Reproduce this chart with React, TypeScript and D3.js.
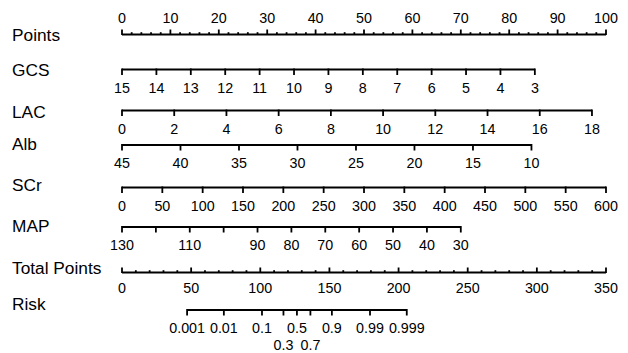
import React from 'react';
import * as d3 from 'd3';

// nomogram data
const pointsTicks = d3.range(0, 101, 2);
const pointsLabels = d3.range(0, 101, 10);

const gcsTicks = [15, 14, 13, 12, 11, 10, 9, 8, 7, 6, 5, 4, 3];
const gcsPoints = [0, 85.3]; // points at 15 and 3

const lacTicks = [0, 2, 4, 6, 8, 10, 12, 14, 16, 18];
const lacPoints = [0, 97.1];

const albTicks = [45, 40, 35, 30, 25, 20, 15, 10];
const albPoints = [0, 84.6];

const scrTicks = [0, 50, 100, 150, 200, 250, 300, 350, 400, 450, 500, 550, 600];
const scrPoints = [0, 100];

const mapTicks = [130, 120, 110, 100, 90, 80, 70, 60, 50, 40, 30];
const mapLabels = [130, 110, 90, 80, 70, 60, 50, 40, 30];
const mapPoints = [0, 70];

const totalTicks = d3.range(0, 351, 10);
const totalLabels = d3.range(0, 351, 50);

const riskTicks = [0.001, 0.01, 0.1, 0.3, 0.5, 0.7, 0.9, 0.99, 0.999];
const riskRow2 = [0.3, 0.7];
const riskIntercept = 126.5; // total points at risk 0.5
const riskSlope = 11.5;      // total points per logit

const W = 628, H = 353;
const font = '"Liberation Sans", Arial, Helvetica, sans-serif';

const ptsX = d3.scaleLinear().domain([0, 100]).range([122, 606]);
const totX = d3.scaleLinear().domain([0, 350]).range([122, 606]);

type Row = { name: string; ticks: number[]; labels?: number[]; pts: number[]; y: number; ty: number };

const rows: Row[] = [
  { name: 'GCS', ticks: gcsTicks, pts: gcsPoints, y: 69.5, ty: 76 },
  { name: 'LAC', ticks: lacTicks, pts: lacPoints, y: 110.5, ty: 117.5 },
  { name: 'Alb', ticks: albTicks, pts: albPoints, y: 145, ty: 150 },
  { name: 'SCr', ticks: scrTicks, pts: scrPoints, y: 187.5, ty: 191 },
  { name: 'MAP', ticks: mapTicks, labels: mapLabels, pts: mapPoints, y: 227, ty: 231.5 },
];

const lineW = 2.2;
const tickW = 1.8;
const tickLen = 5.5;
const labelSize = 14.3;
const titleSize = 17.3;

export default function App() {
  const logit = (p: number) => Math.log(p / (1 - p));
  const riskX = (p: number) => totX(riskIntercept + riskSlope * logit(p));

  return (
    <svg width={W} height={H} style={{ position: 'absolute', left: 0, top: 0, background: '#fff' }}
      fontFamily={font}>
      {/* Points */}
      <text x={12} y={40.5} fontSize={titleSize}>Points</text>
      <line x1={ptsX(0)} x2={ptsX(100)} y1={34.5} y2={34.5} stroke="#000" strokeWidth={lineW} />
      {pointsTicks.map(t => (
        <line key={t} x1={ptsX(t)} x2={ptsX(t)} y1={35} y2={35 - (t % 10 === 0 ? tickLen : 2.8)}
          stroke="#000" strokeWidth={tickW} />
      ))}
      {pointsLabels.map(t => (
        <text key={t} x={ptsX(t)} y={22.5} fontSize={labelSize} textAnchor="middle">{t}</text>
      ))}

      {rows.map(r => {
        const v = d3.scaleLinear().domain([r.ticks[0], r.ticks[r.ticks.length - 1]]).range(r.pts);
        const x = (d: number) => ptsX(v(d));
        const labs = r.labels ?? r.ticks;
        return (
          <g key={r.name}>
            <text x={12} y={r.ty} fontSize={titleSize}>{r.name}</text>
            <line x1={x(r.ticks[0])} x2={x(r.ticks[r.ticks.length - 1])} y1={r.y} y2={r.y}
              stroke="#000" strokeWidth={lineW} />
            {r.ticks.map(t => (
              <line key={t} x1={x(t)} x2={x(t)} y1={r.y - 1} y2={r.y + tickLen}
                stroke="#000" strokeWidth={tickW} />
            ))}
            {labs.map(t => (
              <text key={t} x={x(t)} y={r.y + 23.3} fontSize={labelSize} textAnchor="middle">{t}</text>
            ))}
          </g>
        );
      })}

      {/* Total Points */}
      <text x={12} y={274} fontSize={titleSize}>Total Points</text>
      <line x1={totX(0)} x2={totX(350)} y1={272.5} y2={272.5} stroke="#000" strokeWidth={lineW} />
      {totalTicks.map(t => (
        <line key={t} x1={totX(t)} x2={totX(t)} y1={273} y2={273 - (t % 50 === 0 ? tickLen : 2.8)}
          stroke="#000" strokeWidth={tickW} />
      ))}
      {totalLabels.map(t => (
        <text key={t} x={totX(t)} y={292.5} fontSize={labelSize} textAnchor="middle">{t}</text>
      ))}

      {/* Risk */}
      <text x={12} y={310} fontSize={titleSize}>Risk</text>
      <line x1={riskX(riskTicks[0])} x2={riskX(riskTicks[riskTicks.length - 1])} y1={310} y2={310}
        stroke="#000" strokeWidth={lineW} />
      {riskTicks.map(t => (
        <line key={t} x1={riskX(t)} x2={riskX(t)} y1={309} y2={310 + tickLen}
          stroke="#000" strokeWidth={tickW} />
      ))}
      {riskTicks.map(t => (
        <text key={t} x={riskX(t)} y={riskRow2.includes(t) ? 349.5 : 333.3} fontSize={labelSize}
          textAnchor="middle">{t}</text>
      ))}
    </svg>
  );
}
